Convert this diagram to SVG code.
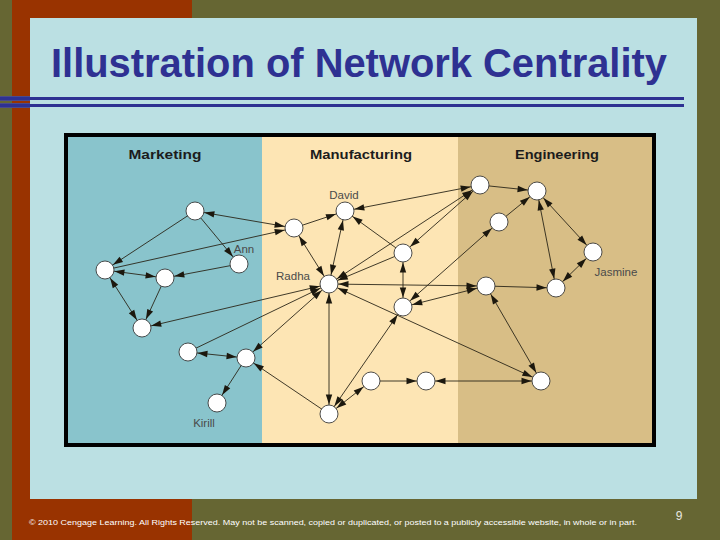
<svg xmlns="http://www.w3.org/2000/svg" width="720" height="540" viewBox="0 0 720 540">
<style>
.hdr{font-family:"Liberation Sans",Arial,sans-serif;font-weight:bold;font-size:13px;fill:#1c1c1c;text-anchor:middle}
.lbl{font-family:"Liberation Sans",Arial,sans-serif;font-size:11.5px;fill:#4a4a4a;text-anchor:middle}
.node circle{fill:#fff;stroke:#3a3a3a;stroke-width:0.9}
#connectors line{stroke:#2a2618;stroke-width:0.9}
#connectors .one{marker-end:url(#ah)}
#connectors .two{marker-start:url(#ah);marker-end:url(#ah)}
</style>
<defs>
<marker id="ah" markerUnits="userSpaceOnUse" markerWidth="30" markerHeight="10" refX="19.5" refY="3.2" orient="auto-start-reverse" overflow="visible">
<path d="M0,0 L10,3.2 L0,6.4 z" fill="#1c180e"/>
</marker>
</defs>
<rect x="0" y="0" width="720" height="540" fill="#666633"/>
<rect x="12" y="0" width="180" height="540" fill="#993300"/>
<rect x="30" y="18" width="667" height="481" fill="#bbe0e3"/>
<text x="51" y="77" font-family="'Liberation Sans',Arial,sans-serif" font-weight="bold" font-size="40" fill="#2e3192" textLength="616" lengthAdjust="spacingAndGlyphs">Illustration of Network Centrality</text>
<rect x="0" y="96" width="30" height="5" fill="#4a4a8c"/>
<rect x="0" y="103" width="30" height="5" fill="#4a4a8c"/>
<rect x="0" y="97" width="684" height="3" fill="#2e3192"/>
<rect x="0" y="104" width="684" height="3" fill="#2e3192"/>
<rect x="68" y="137" width="194" height="306" fill="#89c4cc"/>
<rect x="262" y="137" width="196" height="306" fill="#fde5b4"/>
<rect x="458" y="137" width="194" height="306" fill="#d8be86"/>
<rect x="66" y="135" width="588" height="310" fill="none" stroke="#000" stroke-width="4"/>
<text class="hdr" x="165" y="159" textLength="73" lengthAdjust="spacingAndGlyphs">Marketing</text>
<text class="hdr" x="361" y="159" textLength="102" lengthAdjust="spacingAndGlyphs">Manufacturing</text>
<text class="hdr" x="557" y="159" textLength="84" lengthAdjust="spacingAndGlyphs">Engineering</text>
<g id="connectors">
<line class="two" x1="195" y1="211" x2="294" y2="228"/>
<line class="one" x1="105" y1="270" x2="294" y2="228"/>
<line class="one" x1="195" y1="211" x2="105" y2="270"/>
<line class="one" x1="195" y1="211" x2="239" y2="264"/>
<line class="one" x1="239" y1="264" x2="165" y2="278"/>
<line class="two" x1="105" y1="270" x2="165" y2="278"/>
<line class="two" x1="105" y1="270" x2="142" y2="328"/>
<line class="one" x1="165" y1="278" x2="142" y2="328"/>
<line class="two" x1="329" y1="284" x2="142" y2="328"/>
<line class="one" x1="188" y1="352" x2="329" y2="284"/>
<line class="two" x1="188" y1="352" x2="246" y2="358"/>
<line class="one" x1="246" y1="358" x2="217" y2="403"/>
<line class="two" x1="329" y1="284" x2="246" y2="358"/>
<line class="one" x1="329" y1="414" x2="246" y2="358"/>
<line class="one" x1="294" y1="228" x2="345" y2="211"/>
<line class="two" x1="294" y1="228" x2="329" y2="284"/>
<line class="two" x1="345" y1="211" x2="329" y2="284"/>
<line class="one" x1="403" y1="253" x2="345" y2="211"/>
<line class="two" x1="480" y1="185" x2="345" y2="211"/>
<line class="one" x1="403" y1="253" x2="329" y2="284"/>
<line class="two" x1="480" y1="185" x2="329" y2="284"/>
<line class="two" x1="480" y1="185" x2="403" y2="253"/>
<line class="two" x1="403" y1="253" x2="403" y2="307"/>
<line class="two" x1="329" y1="284" x2="486" y2="286"/>
<line class="two" x1="329" y1="284" x2="329" y2="414"/>
<line class="two" x1="329" y1="284" x2="541" y2="381"/>
<line class="two" x1="329" y1="414" x2="403" y2="307"/>
<line class="two" x1="329" y1="414" x2="371" y2="381"/>
<line class="one" x1="371" y1="381" x2="426" y2="381"/>
<line class="two" x1="541" y1="381" x2="426" y2="381"/>
<line class="two" x1="403" y1="307" x2="499" y2="222"/>
<line class="two" x1="403" y1="307" x2="486" y2="286"/>
<line class="one" x1="499" y1="222" x2="537" y2="191"/>
<line class="one" x1="480" y1="185" x2="537" y2="191"/>
<line class="two" x1="537" y1="191" x2="593" y2="252"/>
<line class="two" x1="537" y1="191" x2="556" y2="288"/>
<line class="two" x1="593" y1="252" x2="556" y2="288"/>
<line class="one" x1="486" y1="286" x2="556" y2="288"/>
<line class="two" x1="486" y1="286" x2="541" y2="381"/>
</g>
<g id="n-m1" class="node"><circle cx="195" cy="211" r="9"/></g>
<g id="n-ann" class="node"><circle cx="239" cy="264" r="9"/><text class="lbl" x="244" y="252.5">Ann</text></g>
<g id="n-m3" class="node"><circle cx="105" cy="270" r="9"/></g>
<g id="n-m4" class="node"><circle cx="165" cy="278" r="9"/></g>
<g id="n-m5" class="node"><circle cx="142" cy="328" r="9"/></g>
<g id="n-m6" class="node"><circle cx="188" cy="352" r="9"/></g>
<g id="n-k0" class="node"><circle cx="246" cy="358" r="9"/></g>
<g id="n-kirill" class="node"><circle cx="217" cy="403" r="9"/><text class="lbl" x="204" y="427">Kirill</text></g>
<g id="n-mf1" class="node"><circle cx="294" cy="228" r="9"/></g>
<g id="n-david" class="node"><circle cx="345" cy="211" r="9"/><text class="lbl" x="344" y="199">David</text></g>
<g id="n-mf3" class="node"><circle cx="403" cy="253" r="9"/></g>
<g id="n-radha" class="node"><circle cx="329" cy="284" r="9"/><text class="lbl" x="293" y="280">Radha</text></g>
<g id="n-mf5" class="node"><circle cx="403" cy="307" r="9"/></g>
<g id="n-mf6" class="node"><circle cx="371" cy="381" r="9"/></g>
<g id="n-mf7" class="node"><circle cx="426" cy="381" r="9"/></g>
<g id="n-mf8" class="node"><circle cx="329" cy="414" r="9"/></g>
<g id="n-e1" class="node"><circle cx="480" cy="185" r="9"/></g>
<g id="n-e2" class="node"><circle cx="537" cy="191" r="9"/></g>
<g id="n-e3" class="node"><circle cx="499" cy="222" r="9"/></g>
<g id="n-jasmine" class="node"><circle cx="593" cy="252" r="9"/><text class="lbl" x="616" y="275.5">Jasmine</text></g>
<g id="n-e5" class="node"><circle cx="486" cy="286" r="9"/></g>
<g id="n-e6" class="node"><circle cx="556" cy="288" r="9"/></g>
<g id="n-e7" class="node"><circle cx="541" cy="381" r="9"/></g>
<text x="29" y="525" font-family="'Liberation Sans',Arial,sans-serif" font-size="8" fill="#ffffff" textLength="608" lengthAdjust="spacingAndGlyphs">© 2010 Cengage Learning. All Rights Reserved. May not be scanned, copied or duplicated, or posted to a publicly accessible website, in whole or in part.</text>
<text x="679" y="520" font-family="'Liberation Sans',Arial,sans-serif" font-size="12" fill="#e8e8e0" text-anchor="middle">9</text>
</svg>
